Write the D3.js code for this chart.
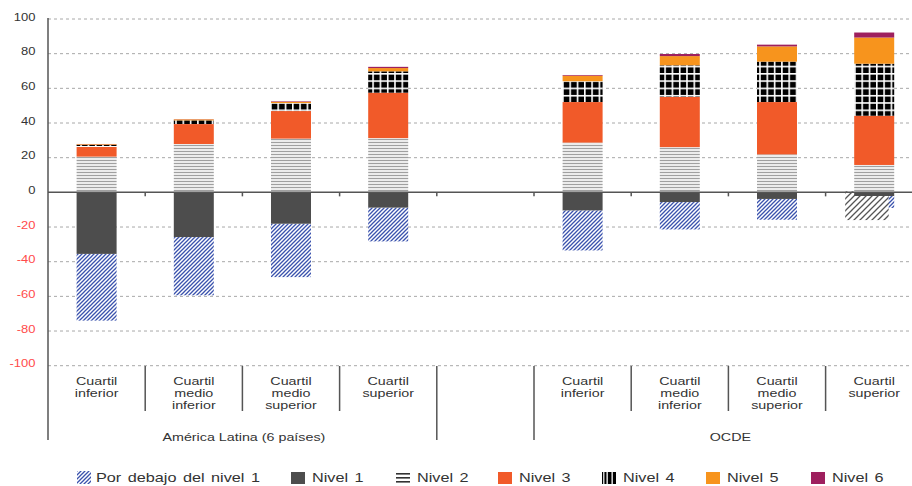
<!DOCTYPE html>
<html><head><meta charset="utf-8">
<script src="https://cdn.jsdelivr.net/npm/d3@7/dist/d3.min.js"></script>
<style>body{margin:0;background:#fff}svg{display:block;font-family:"Liberation Sans",Arial,sans-serif}</style>
</head><body><svg id="c" width="912" height="486"></svg>
<script>
// ---- data ----
const slots = ["LA1","LA2","LA3","LA4","gap","OC1","OC2","OC3","OC4"];
const barSlots = ["LA1","LA2","LA3","LA4","OC1","OC2","OC3","OC4"];
const categories = [["Cuartil","inferior"],["Cuartil","medio","inferior"],["Cuartil","medio","superior"],["Cuartil","superior"]];
const groups = ["América Latina (6 países)","OCDE"];
const yTicks = [100,80,60,40,20,0,-20,-40,-60,-80,-100];
const belowL1 = [38.5, 33.6, 30.8, 19.5, 23.1, 15.8, 12.0, 6.9];
const nivel1  = [35.5, 25.8, 18.1, 8.8, 10.4, 5.6, 3.8, 2.1];
const nivel2  = [20.6, 27.9, 31.0, 31.3, 28.7, 26.1, 21.9, 15.8];
const nivel3  = [5.6, 11.5, 15.9, 26.2, 23.4, 28.9, 30.2, 28.4];
const nivel4  = [1.2, 2.1, 4.6, 12.3, 12.0, 18.3, 23.3, 30.0];
const nivel5  = [0.4, 0.6, 0.7, 1.9, 3.2, 5.3, 8.8, 15.1];
const nivel6  = [0.1, 0.1, 0.3, 0.7, 0.4, 1.2, 1.0, 2.9];
const ocdeSuperiorSombra = -16; // grey hatched artefact under last bar
const legendLabels = ["Por debajo del nivel 1","Nivel 1","Nivel 2","Nivel 3","Nivel 4","Nivel 5","Nivel 6"];

const SX = 1.3; // horizontal stretch of text in the reference
const svg = d3.select("#c");
const defs = svg.append("defs");
function pat(id,w,h,draw){const p=defs.append("pattern").attr("id",id).attr("patternUnits","userSpaceOnUse").attr("width",w).attr("height",h);draw(p);}
pat("pBelow",4,4,p=>{p.append("rect").attr("width",4).attr("height",4).attr("fill","#fff");
  p.append("path").attr("d","M-1,1 L1,-1 M0,4 L4,0 M3,5 L5,3").attr("stroke","#3a52ad").attr("stroke-width",1.3);});
pat("pN2",4,3,p=>{p.append("rect").attr("width",4).attr("height",3).attr("fill","#fff");
  p.append("rect").attr("y",0.8).attr("width",4).attr("height",1.4).attr("fill","#a0a0a0");});
pat("pN4",7.3,7.3,p=>{p.append("rect").attr("width",7.3).attr("height",7.3).attr("fill","#000");
  p.append("rect").attr("width",7.3).attr("height",1.6).attr("fill","#fff");
  p.append("rect").attr("width",1.6).attr("height",7.3).attr("fill","#fff");});
pat("pShadow",6,6,p=>{p.append("rect").attr("width",6).attr("height",6).attr("fill","#fff");
  p.append("path").attr("d","M-1.5,1.5 L1.5,-1.5 M0,6 L6,0 M4.5,7.5 L7.5,4.5").attr("stroke","#555").attr("stroke-width",1.3);});

const fills = ["url(#pBelow)","#4d4d4d","url(#pN2)","#f15a29","url(#pN4)","#f7941d","#9e1f5e"];

const x = d3.scaleBand().domain(slots).range([48, 48+9*97.2]).padding(0);
const y = d3.scaleLinear().domain([-100,100]).range([365.7,19]);
const bw = 40;

function stext(g,tx,ty,size,anchor,fill,str,ws){
  const t = g.append("text").attr("transform",`translate(${tx},${ty}) scale(${SX},1)`)
    .attr("text-anchor",anchor).attr("font-size",size).attr("fill",fill).text(str);
  if(ws) t.attr("word-spacing",ws);
  return t;
}

// grid
svg.append("g").selectAll("line").data(yTicks.filter(d=>d!==0)).join("line")
  .attr("x1",48).attr("x2",912).attr("y1",d=>y(d)).attr("y2",d=>y(d))
  .attr("stroke","#a8a8a8").attr("stroke-width",1).attr("stroke-dasharray","3,3");

// y labels
const gy = svg.append("g");
yTicks.forEach(d=>stext(gy,35.5,y(d)+1.6,10,"end",d<0?"#ff4a4a":"#333",d));

// bars
const gBars = svg.append("g");
barSlots.forEach((s,i)=>{
  const cx = x(s)+x.bandwidth()/2, x0 = cx-bw/2;
  let n0 = 0, n1 = -nivel1[i], n2 = n1-belowL1[i];
  gBars.append("rect").attr("x",x0).attr("width",bw).attr("y",y(n1)).attr("height",y(n2)-y(n1)).attr("fill",fills[0]);
  if(s==="OC4"){
    gBars.append("rect").attr("x",x0-9).attr("width",bw+3.5).attr("y",y(0)-1).attr("height",y(ocdeSuperiorSombra)-y(0)+1).attr("fill","url(#pShadow)");
  }
  gBars.append("rect").attr("x",x0).attr("width",bw).attr("y",y(n0)).attr("height",y(n1)-y(n0)).attr("fill",fills[1]);
  let base = 0;
  [nivel2,nivel3,nivel4,nivel5,nivel6].forEach((arr,k)=>{
    const v = arr[i];
    gBars.append("rect").attr("x",x0).attr("width",bw).attr("y",y(base+v)).attr("height",y(base)-y(base+v)).attr("fill",fills[k+2]);
    base += v;
  });
});

// zero line and axis
svg.append("line").attr("x1",48).attr("x2",912).attr("y1",y(0)).attr("y2",y(0)).attr("stroke","#555").attr("stroke-width",1.5);
svg.append("line").attr("x1",48).attr("x2",48).attr("y1",18).attr("y2",440).attr("stroke","#555").attr("stroke-width",1.5);
svg.append("g").selectAll("line").data(d3.range(1,10)).join("line")
  .attr("x1",k=>48+97.2*k).attr("x2",k=>48+97.2*k)
  .attr("y1",y(0)).attr("y2",y(0)+4).attr("stroke","#555").attr("stroke-width",1.5);

// category separators
d3.range(1,10).forEach(k=>{
  const bx = 48+97.2*k, full = (k===4||k===5||k===9);
  svg.append("line").attr("x1",bx).attr("x2",bx).attr("y1",366).attr("y2",full?440:411).attr("stroke","#555").attr("stroke-width",1.5);
});

// category labels
const gc = svg.append("g");
const catSlots = [["LA1","LA2","LA3","LA4"],["OC1","OC2","OC3","OC4"]];
catSlots.forEach(gs=>gs.forEach((s,j)=>{
  const cx = x(s)+x.bandwidth()/2;
  categories[j].forEach((ln,li)=>stext(gc,cx,385.3+li*12,11,"middle","#333",ln));
}));
// group labels
stext(svg,(48+x("gap"))/2+1.5,440.7,11,"middle","#333",groups[0]);
stext(svg,(x("OC1")+48+9*97.2)/2+2,440.7,11,"middle","#333",groups[1]);

// legend
const legX = [77,291,396,498,602,706,811];
const lg = svg.append("g");
legendLabels.forEach((lab,i)=>{
  const lx = legX[i];
  if(i===0){
    lg.append("rect").attr("x",lx).attr("y",471).attr("width",14).attr("height",13).attr("fill",fills[0]);
  } else if(i===2){
    [0,4,8].forEach(o=>lg.append("rect").attr("x",lx).attr("y",473+o).attr("width",14).attr("height",1.6).attr("fill","#333"));
  } else if(i===4){
    lg.append("rect").attr("x",lx).attr("y",472).attr("width",14).attr("height",12).attr("fill","#000");
    [4.5,9.5].forEach(o=>lg.append("rect").attr("x",lx+o).attr("y",472).attr("width",1.3).attr("height",12).attr("fill","#fff"));
    lg.append("rect").attr("x",lx+1.2).attr("y",472).attr("width",1.2).attr("height",12).attr("fill","#fff");
  } else {
    lg.append("rect").attr("x",lx).attr("y",472).attr("width",14).attr("height",12).attr("fill",fills[i]);
  }
  stext(lg,lx+(i===0?19:21),481.8,12.5,"start","#333",lab,1.5);
});
</script></body></html>
